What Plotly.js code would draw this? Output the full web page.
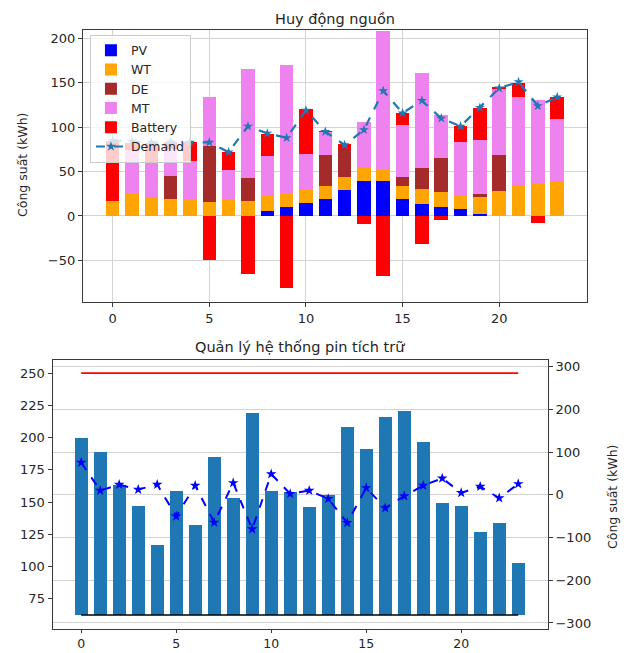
<!DOCTYPE html>
<html>
<head>
<meta charset="utf-8">
<script src="https://cdn.plot.ly/plotly-3.0.1.min.js"></script>
<style>html,body{margin:0;padding:0;background:#fff}#chart{width:629px;height:653px}</style>
</head>
<body>
<div id="chart"></div>
<script>
// ---- Data: top chart "Huy động nguồn" ----
const hours = [0,1,2,3,4,5,6,7,8,9,10,11,12,13,14,15,16,17,18,19,20,21,22,23];
const pv      = [0,0,0,0,0,0,0,0,5.6,10,14.7,19.6,29.7,39.5,39.5,19.6,14,10,7.6,2.7,0,0,0,0];
const wt      = [17,24.4,21.4,19.6,19.6,15.8,19.6,17,16.9,14.4,15,14.3,14.3,14.6,12.8,14.3,16.9,16.9,15.7,18.7,28.2,34.6,37.2,39.5];
const de      = [0,0,0,25.4,0,62.8,0,26.3,0,0,0,35.3,30,0,0,10.1,23.2,38,0,3.8,40.2,0,0,0];
const mt      = [0,50,38.8,30,42.4,54.9,31.9,122.1,44.8,145.5,40.6,25.5,0,51.9,156.3,59,107.2,48.5,60.1,60.8,75.2,98.9,94,69.2];
const battery = [68,8,22,8,21,-50,20.5,-65,25.6,-81,49.7,1,7.6,-8.6,-68,13,-31.2,-4.8,17.6,36,2,16.8,-7.5,24.8];
const demand  = [85,84,83,83,83,83,72,101,93,88,119,95,80,97,141,116,130,110,101,122,144,151,124,134];

// ---- Data: bottom chart "Quản lý hệ thống pin tích trữ" ----
const soc      = [200,189,163,147,117,158.5,132.5,185.3,152.9,218.8,158.5,157.5,146.6,155.4,208.3,191.2,216,220.6,196.4,149.6,147,126.6,133.8,102.6];
const batPower = [75.6,10,23.9,12.3,23.9,-50.2,21.6,-64.8,27.8,-80.3,48.6,2.3,10,-9.3,-65.6,16.2,-30.9,-3,21.6,38.6,4.6,19.3,-7.7,25.5];
const SOC_MAX = 250;
const SOC_MIN = 62.5;

const FONT = 'DejaVu Sans';
const TXT = '#262626';

const traces = [];
const comps = [
  ['PV', pv, '#0000ff'],
  ['WT', wt, '#ffa500'],
  ['DE', de, '#a52a2a'],
  ['MT', mt, '#ee82ee'],
  ['Battery', battery, '#ff0000']
];
comps.forEach(([name, arr, col]) => {
  traces.push({type:'bar', name:name, x:hours, y:arr, width:0.7,
    marker:{color:col, line:{width:0}}, xaxis:'x', yaxis:'y'});
});
traces.push({type:'scatter', mode:'lines+markers', name:'Demand', x:hours, y:demand,
  line:{color:'#1f77b4', width:2.2, dash:'dash'},
  marker:{symbol:'star', size:7.5, color:'#1f77b4'}, xaxis:'x', yaxis:'y'});

// bottom chart
traces.push({type:'bar', x:hours, y:soc.map(v => v - SOC_MIN), base:SOC_MIN, width:0.7,
  marker:{color:'#1f77b4', line:{width:0}}, xaxis:'x2', yaxis:'y2', showlegend:false});
traces.push({type:'scatter', mode:'lines', x:[hours[0], hours[hours.length-1]], y:[SOC_MAX, SOC_MAX],
  line:{color:'#ff0000', width:1.6}, xaxis:'x2', yaxis:'y2', showlegend:false});
traces.push({type:'scatter', mode:'lines', x:[hours[0], hours[hours.length-1]], y:[SOC_MIN, SOC_MIN],
  line:{color:'#000000', width:1.6}, xaxis:'x2', yaxis:'y2', showlegend:false});
traces.push({type:'scatter', mode:'lines+markers', x:hours, y:batPower,
  line:{color:'#0000ff', width:2, dash:'dash'},
  marker:{symbol:'star', size:8, color:'#0000ff'}, xaxis:'x2', yaxis:'y3', showlegend:false});

const axBase = {
  showline:true, linecolor:'#3a3a3a', linewidth:1.2, mirror:true,
  ticks:'outside', ticklen:4, tickcolor:'#3a3a3a', tickwidth:1,
  tickfont:{family:FONT, size:13, color:TXT}, zeroline:false
};

const layout = {
  width:629, height:653,
  margin:{l:0, r:0, t:0, b:0},
  paper_bgcolor:'#fff', plot_bgcolor:'#fff',
  barmode:'relative', bargap:0,
  font:{family:FONT, color:TXT},
  showlegend:true,
  legend:{x:0.143, y:0.947, xanchor:'left', yanchor:'top', traceorder:'normal',
    bgcolor:'rgba(255,255,255,0.8)', bordercolor:'#cccccc', borderwidth:1,
    font:{family:FONT, size:12.5, color:TXT}, itemwidth:30, tracegroupgap:0},
  xaxis: Object.assign({}, axBase, {domain:[0.132, 0.933], range:[-1.535, 24.535],
    tickvals:[0,5,10,15,20], showgrid:true, gridcolor:'#d3d3d3', gridwidth:1, anchor:'y'}),
  yaxis: Object.assign({}, axBase, {domain:[0.5375, 0.954], range:[-97, 209.5],
    tickvals:[-50,0,50,100,150,200], showgrid:true, gridcolor:'#d3d3d3', gridwidth:1, anchor:'x'}),
  xaxis2: Object.assign({}, axBase, {domain:[0.0375, 0.8707], range:[-1.5, 24.55],
    tickvals:[0,5,10,15,20], showgrid:false, anchor:'y2', ticklen:3,
    tickfont:{family:FONT, size:12.5, color:TXT}}),
  yaxis2: Object.assign({}, axBase, {domain:[0.0375, 0.4487], range:[52, 260.2],
    tickvals:[75,100,125,150,175,200,225,250], showgrid:false, anchor:'x2', mirror:false}),
  yaxis3: Object.assign({}, axBase, {overlaying:'y2', side:'right', anchor:'x2', range:[-313, 315.5],
    tickvals:[-300,-200,-100,0,100,200,300], showgrid:true, gridcolor:'#d3d3d3', gridwidth:1, mirror:false}),
  annotations:[
    {text:'Huy động nguồn', xref:'paper', yref:'paper', x:335/629, y:1-19/653, xanchor:'center', yanchor:'middle',
     showarrow:false, font:{family:FONT, size:14.5, color:TXT}},
    {text:'Quản lý hệ thống pin tích trữ', xref:'paper', yref:'paper', x:300/629, y:1-347/653, xanchor:'center', yanchor:'middle',
     showarrow:false, font:{family:FONT, size:14.5, color:TXT}},
    {text:'Công suất (kWh)', xref:'paper', yref:'paper', x:22/629, y:1-165/653, xanchor:'center', yanchor:'middle',
     textangle:-90, showarrow:false, font:{family:FONT, size:12.5, color:TXT}},
    {text:'Công suất (kWh)', xref:'paper', yref:'paper', x:612/629, y:1-497/653, xanchor:'center', yanchor:'middle',
     textangle:-90, showarrow:false, font:{family:FONT, size:12.5, color:TXT}}
  ]
};
// keep bottom x-axis domain left edge matching its y-axis position
layout.xaxis2.domain = [0.0838, 0.8707];

Plotly.newPlot('chart', traces, layout, {staticPlot:true, displayModeBar:false});
</script>
</body>
</html>
